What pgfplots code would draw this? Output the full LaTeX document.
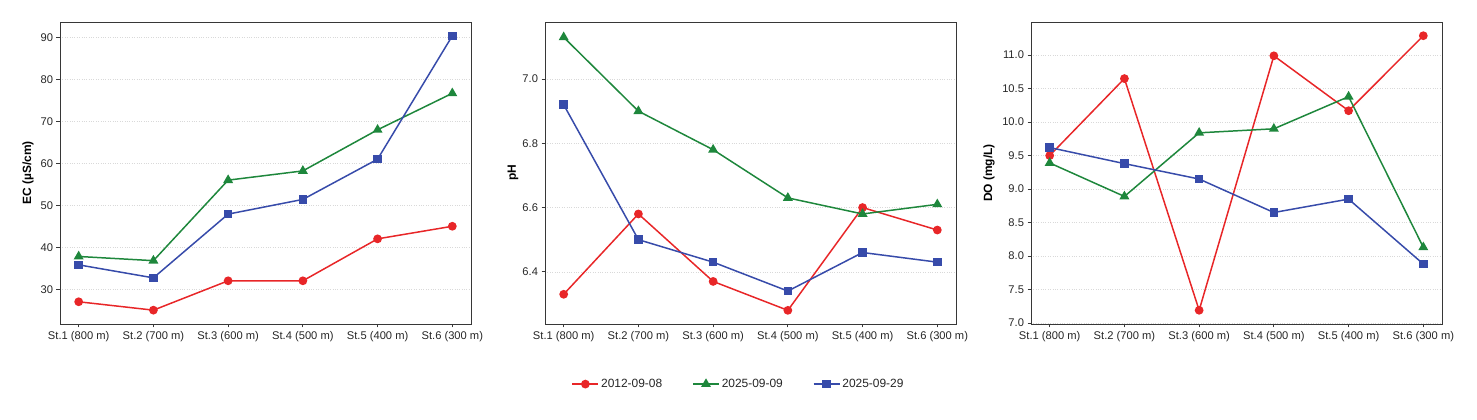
\documentclass[border=0pt]{standalone}
\usepackage{fontspec}
\setmainfont{Liberation Sans}
\usepackage{pgfplots}
\pgfplotsset{compat=1.18}
\definecolor{cred}{RGB}{232,38,40}
\definecolor{cgreen}{RGB}{30,135,60}
\definecolor{cblue}{RGB}{55,75,170}
\definecolor{frame}{RGB}{55,55,55}
\pgfplotsset{
  panel/.style={
    scale only axis, width=411bp, height=302bp,
    xmin=-0.25, xmax=5.25,
    xtick={0,1,2,3,4,5},
    xticklabels={St.1 (800 m),St.2 (700 m),St.3 (600 m),St.4 (500 m),St.5 (400 m),St.6 (300 m)},
    tick align=outside, major tick length=3.5bp,
    xtick pos=bottom, ytick pos=left,
    axis line style={frame, line width=0.9pt},
    every tick/.style={frame, line width=0.8pt},
    tick label style={font=\fontsize{11.2}{13}\selectfont, text=black!85},
    /pgf/number format/assume math mode=true,
    ymajorgrids, grid style={dotted, black!15, line width=0.5pt},
    ylabel style={font=\bfseries\fontsize{12}{14}\selectfont, at={(rel axis cs:0,0.5)}, anchor=center},
    every axis plot/.append style={line width=1.5pt, mark options={solid}},
    legend image code/.code={\draw[mark repeat=2,mark phase=2] plot coordinates {(0bp,0bp) (13bp,0bp) (26bp,0bp)};},
  },
  sred/.style={color=cred, mark=*, mark size=3.6bp},
  sgreen/.style={color=cgreen, mark=triangle*, mark size=4.3bp},
  sblue/.style={color=cblue, mark=square*, mark size=3.5bp},
}
\begin{document}
\begin{tikzpicture}
\useasboundingbox (0,0) rectangle (1477bp,420bp);
% EC
\begin{axis}[panel, at={(60bp,96bp)}, anchor=south west,
  ymin=21.7, ymax=93.7, ytick={30,40,50,60,70,80,90},
  ylabel={EC (µS/cm)}, ylabel style={yshift=32bp}]
\addplot[sred] coordinates {(0,27) (1,25) (2,32) (3,32) (4,42) (5,45)};
\addplot[sgreen] coordinates {(0,37.8) (1,36.8) (2,56) (3,58.2) (4,68) (5,76.7)};
\addplot[sblue] coordinates {(0,35.8) (1,32.7) (2,47.9) (3,51.4) (4,61) (5,90.4)};
\end{axis}
% pH
\begin{axis}[panel, at={(545bp,96bp)}, anchor=south west,
  ymin=6.2375, ymax=7.1775, ytick={6.4,6.6,6.8,7.0},
  yticklabel style={/pgf/number format/.cd, fixed, fixed zerofill, precision=1},
  ylabel={pH}, ylabel style={yshift=32bp},
  legend columns=3,
  legend style={draw=none, fill=none, at={(0.471,-0.199)}, anchor=center,
    font=\fontsize{12}{14}\selectfont, text=black!85,
    /tikz/every even column/.append style={column sep=28bp},
    cells={anchor=west}}]
\addplot[sred] coordinates {(0,6.33) (1,6.58) (2,6.37) (3,6.28) (4,6.60) (5,6.53)};
\addplot[sgreen] coordinates {(0,7.13) (1,6.90) (2,6.78) (3,6.63) (4,6.58) (5,6.61)};
\addplot[sblue] coordinates {(0,6.92) (1,6.50) (2,6.43) (3,6.34) (4,6.46) (5,6.43)};
\legend{2012-09-08,2025-09-09,2025-09-29}
\end{axis}
% DO
\begin{axis}[panel, at={(1031bp,96bp)}, anchor=south west,
  ymin=6.985, ymax=11.495, ytick={7.0,7.5,8.0,8.5,9.0,9.5,10.0,10.5,11.0},
  yticklabel style={/pgf/number format/.cd, fixed, fixed zerofill, precision=1},
  ylabel={DO (mg/L)}, ylabel style={yshift=42bp}]
\addplot[sred] coordinates {(0,9.5) (1,10.65) (2,7.19) (3,10.99) (4,10.17) (5,11.29)};
\addplot[sgreen] coordinates {(0,9.39) (1,8.89) (2,9.84) (3,9.90) (4,10.38) (5,8.13)};
\addplot[sblue] coordinates {(0,9.62) (1,9.38) (2,9.15) (3,8.65) (4,8.85) (5,7.88)};
\end{axis}
\end{tikzpicture}
\end{document}
